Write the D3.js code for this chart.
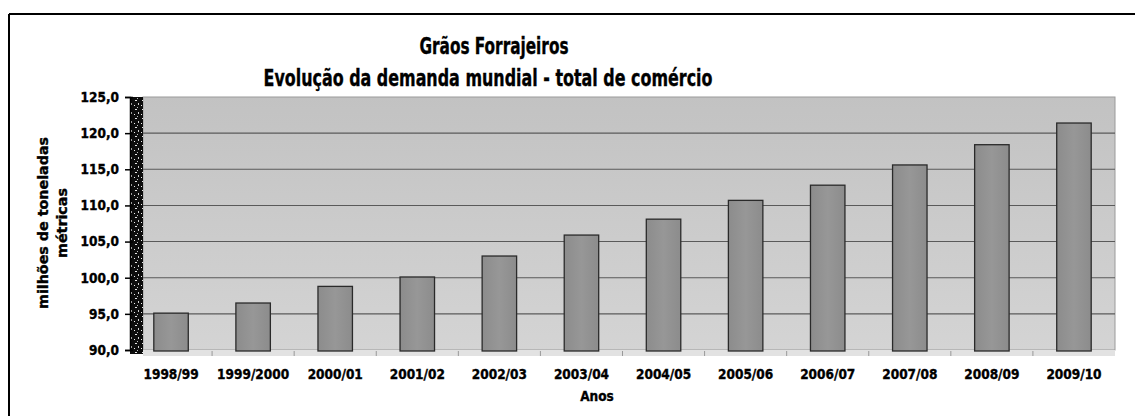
<html>
<head>
  <script src="https://d3js.org/d3.v7.min.js"></script>
  <style>
  body{
    margin: 0;
    background: #fff;
  }
  svg text{
    font-family: "DejaVu Sans Condensed", "DejaVu Sans", sans-serif;
    font-weight: bold;
    fill: #000;
    stroke: #000;
    stroke-width: 0.35px;
  }
  </style>
</head>
<body>
  <script type="text/javascript">
    var width=1135;
    var height=416;

    var categories=["1998/99","1999/2000","2000/01","2001/02","2002/03","2003/04",
                    "2004/05","2005/06","2006/07","2007/08","2008/09","2009/10"];
    var values=[95.1,96.5,98.8,100.1,103.0,105.9,108.1,110.7,112.8,115.6,118.4,121.4];
    var yTicks=[90,95,100,105,110,115,120,125];

    var plotL=130, plotR=1115, plotT=97, plotB=350;
    var wallW=13;

    var svg=d3.select("body").append("svg")
              .attr("width",width)
              .attr("height",height);

    var defs=svg.append("defs");
    var grad=defs.append("linearGradient")
                 .attr("id","bg")
                 .attr("x1",0).attr("y1",0).attr("x2",0).attr("y2",1);
    grad.append("stop").attr("offset","0%").attr("stop-color","#c2c2c2");
    grad.append("stop").attr("offset","100%").attr("stop-color","#d4d4d4");

    var barGrad=defs.append("linearGradient")
                    .attr("id","bar")
                    .attr("x1",0).attr("y1",0).attr("x2",1).attr("y2",0);
    barGrad.append("stop").attr("offset","0%").attr("stop-color","#8c8c8c");
    barGrad.append("stop").attr("offset","50%").attr("stop-color","#979797");
    barGrad.append("stop").attr("offset","100%").attr("stop-color","#8c8c8c");

    // speckled left wall
    var pat=defs.append("pattern")
                .attr("id","wall")
                .attr("patternUnits","userSpaceOnUse")
                .attr("width",7).attr("height",9);
    pat.append("rect").attr("width",7).attr("height",9).attr("fill","#0d0d0d");
    pat.append("rect").attr("x",2).attr("y",1).attr("width",2).attr("height",1).attr("fill","#e8e8e8");
    pat.append("rect").attr("x",5).attr("y",4).attr("width",1).attr("height",2).attr("fill","#cfcfcf");
    pat.append("rect").attr("x",1).attr("y",6).attr("width",1).attr("height",1).attr("fill","#f2f2f2");
    pat.append("rect").attr("x",4).attr("y",8).attr("width",1).attr("height",1).attr("fill","#bdbdbd");

    // outer frame (top and left only)
    svg.append("line").attr("x1",9).attr("x2",width).attr("y1",14).attr("y2",14)
       .attr("stroke","#000").attr("stroke-width",2);
    svg.append("line").attr("x1",9).attr("x2",9).attr("y1",14).attr("y2",height)
       .attr("stroke","#000").attr("stroke-width",2);

    var x=d3.scaleBand()
            .domain(categories)
            .range([plotL,plotR])
            .paddingInner(0.58)
            .paddingOuter(0.29);

    var y=d3.scaleLinear()
            .domain([90,125])
            .range([plotB,plotT]);

    // plot background
    svg.append("rect")
       .attr("x",plotL+wallW).attr("y",plotT)
       .attr("width",plotR-plotL-wallW).attr("height",plotB-plotT)
       .attr("fill","url(#bg)")
       .attr("stroke","#9a9a9a");

    // floor
    svg.append("rect")
       .attr("x",plotL+wallW).attr("y",plotB)
       .attr("width",plotR-plotL-wallW).attr("height",6)
       .attr("fill","#e2e2e2");

    // wall
    svg.append("rect")
       .attr("x",plotL).attr("y",plotT)
       .attr("width",wallW).attr("height",plotB-plotT+4)
       .attr("fill","url(#wall)");

    // gridlines
    svg.selectAll("line.grid")
       .data(yTicks.slice(1,-1))
       .enter()
       .append("line")
       .attr("class","grid")
       .attr("x1",plotL+wallW).attr("x2",plotR)
       .attr("y1",function(d){ return y(d) })
       .attr("y2",function(d){ return y(d) })
       .attr("stroke","#5a5a5a")
       .attr("stroke-width",1.1);

    // bars
    svg.selectAll("rect.bar")
       .data(values)
       .enter()
       .append("rect")
       .attr("class","bar")
       .attr("x",function(d,i){ return x(categories[i]) })
       .attr("y",function(d){ return y(d) })
       .attr("width",x.bandwidth())
       .attr("height",function(d){ return y(90)-y(d)+1 })
       .attr("fill","url(#bar)")
       .attr("stroke","#2a2a2a")
       .attr("stroke-width",1.3);

    // y axis
    var yAxis=d3.axisLeft(y)
                .tickValues(yTicks)
                .tickSize(5)
                .tickFormat(function(d){ return d3.format(".1f")(d).replace(".",",") });
    var gy=svg.append("g")
              .attr("transform","translate("+plotL+",0)")
              .call(yAxis);
    gy.select(".domain").attr("stroke","#000").attr("stroke-width",1.5);
    gy.selectAll(".tick line").attr("stroke","#000").attr("stroke-width",1.5).attr("x2",3).attr("x1",-5);
    gy.selectAll(".tick text")
      .attr("x",-11)
      .style("font-size","13.5px")
      .style("font-family","'DejaVu Sans Condensed', 'DejaVu Sans', sans-serif");

    // x axis (category labels and floor ticks)
    var xAxis=d3.axisBottom(x).tickSize(0).tickPadding(19);
    var gx=svg.append("g")
              .attr("transform","translate(0,"+plotB+")")
              .call(xAxis);
    gx.select(".domain").remove();
    gx.selectAll(".tick text")
      .style("font-size","13.5px")
      .style("font-family","'DejaVu Sans Condensed', 'DejaVu Sans', sans-serif");

    svg.selectAll("line.ftick")
       .data(categories.slice(1))
       .enter()
       .append("line")
       .attr("class","ftick")
       .attr("x1",function(d){ return x(d)-x.step()*x.paddingInner()/2 })
       .attr("x2",function(d){ return x(d)-x.step()*x.paddingInner()/2 })
       .attr("y1",plotB+1).attr("y2",plotB+6)
       .attr("stroke","#999");

    // titles
    svg.append("text")
       .attr("x",494).attr("y",54)
       .attr("text-anchor","middle")
       .attr("textLength",149)
       .attr("lengthAdjust","spacingAndGlyphs")
       .style("font-size","22.5px")
       .text("Grãos Forrajeiros");
    svg.append("text")
       .attr("x",488).attr("y",86)
       .attr("text-anchor","middle")
       .attr("textLength",449)
       .attr("lengthAdjust","spacingAndGlyphs")
       .style("font-size","22.5px")
       .text("Evolução da demanda mundial - total de comércio");

    svg.append("text")
       .attr("x",597).attr("y",401)
       .attr("text-anchor","middle")
       .style("font-size","13.5px")
       .text("Anos");

    var yl=svg.append("text")
              .attr("transform","translate(48,223) rotate(-90)")
              .attr("text-anchor","middle")
              .style("font-size","14px");
    yl.append("tspan").attr("x",0).attr("y",0)
      .attr("textLength",172).attr("lengthAdjust","spacingAndGlyphs")
      .text("milhões de toneladas");
    yl.append("tspan").attr("x",0).attr("y",19)
      .attr("textLength",70).attr("lengthAdjust","spacingAndGlyphs")
      .text("métricas");
  </script>
</body>
</html>
